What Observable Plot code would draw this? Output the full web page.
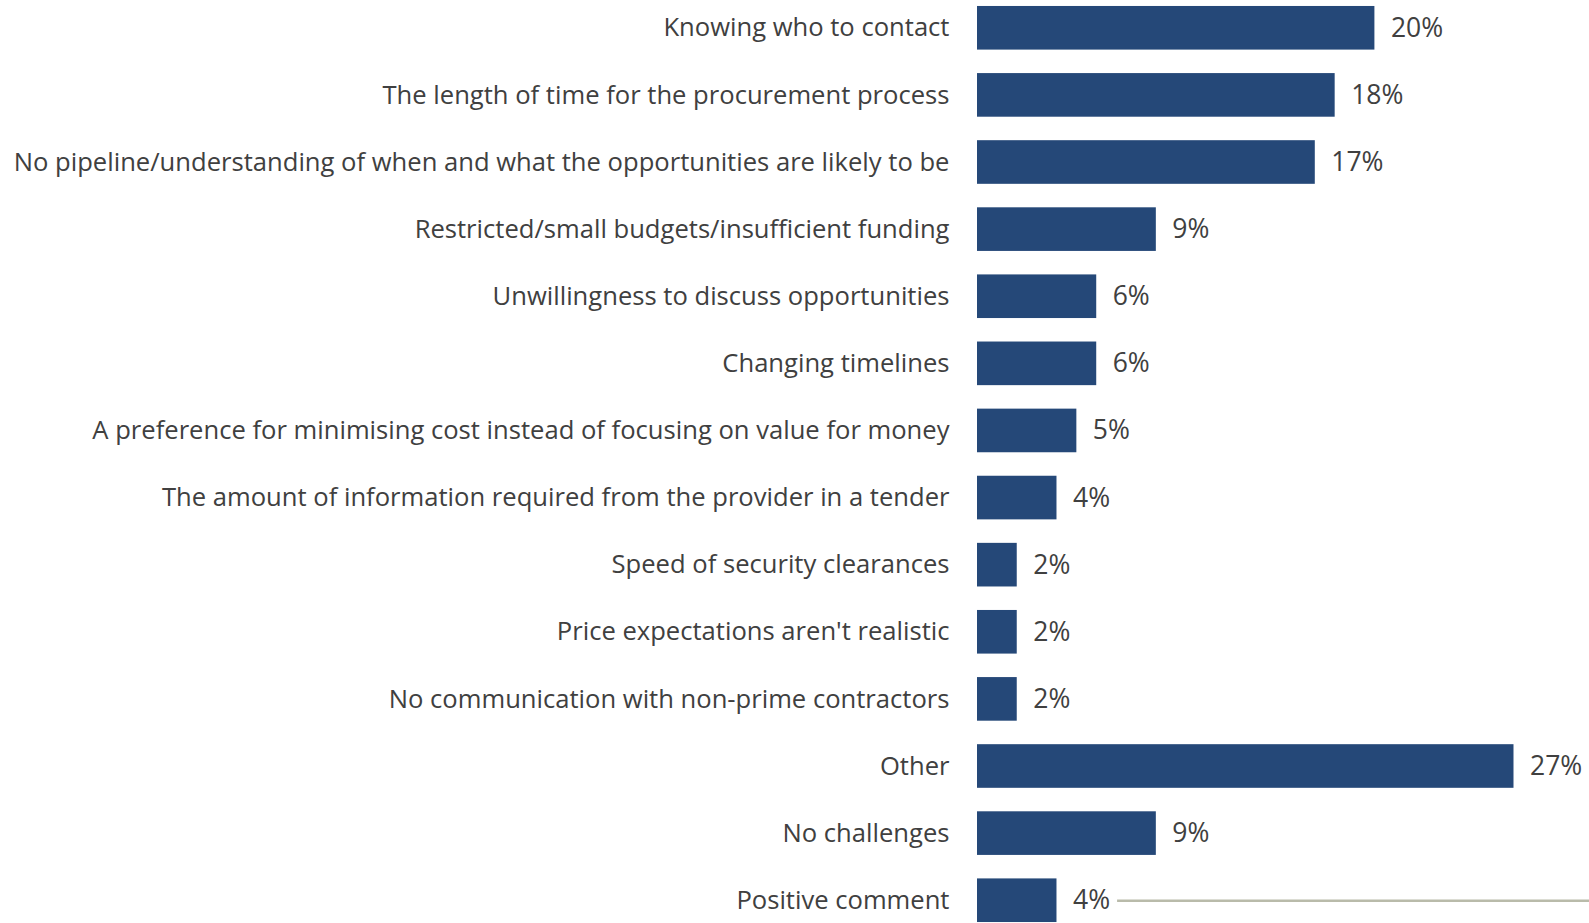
<!DOCTYPE html>
<html>
<head>
<meta charset="utf-8">
<script src="https://cdn.jsdelivr.net/npm/d3@7"></script>
<script src="https://cdn.jsdelivr.net/npm/@observablehq/plot@0.6"></script>
<style>
  html, body { margin: 0; padding: 0; background: #fff; overflow: hidden; }
  svg { display: block; }
</style>
</head>
<body>
<div id="chart"></div>
<script>
const categories = [
  "Knowing who to contact",
  "The length of time for the procurement process",
  "No pipeline/understanding of when and what the opportunities are likely to be",
  "Restricted/small budgets/insufficient funding",
  "Unwillingness to discuss opportunities",
  "Changing timelines",
  "A preference for minimising cost instead of focusing on value for money",
  "The amount of information required from the provider in a tender",
  "Speed of security clearances",
  "Price expectations aren't realistic",
  "No communication with non-prime contractors",
  "Other",
  "No challenges",
  "Positive comment"
];
const values = [20, 18, 17, 9, 6, 6, 5, 4, 2, 2, 2, 27, 9, 4];

// stray connector line seen at the bottom right of the reference
const connectorCategory = ["Positive comment"];
const connectorStart = [7.05];
const connectorEnd = [30.8];

const data = categories.map((c, i) => ({label: c, value: values[i]}));
const connector = connectorCategory.map((c, i) => ({label: c, x1: connectorStart[i], x2: connectorEnd[i]}));

const chart = Plot.plot({
  width: 1589,
  height: 923,
  marginLeft: 977,
  marginRight: 0,
  marginTop: 0,
  marginBottom: 0,
  style: {fontFamily: "'Open Sans', sans-serif", fontSize: "25.6px", color: "#404040", background: "#fff"},
  x: {domain: [0, 30.8], axis: null},
  y: {domain: categories, range: [0, 928], paddingInner: 0.35, paddingOuter: 0.089, round: false, label: null},
  marks: [
    Plot.axisY({tickSize: 0, tickPadding: 28, fontSize: 25.6, label: null}),
    Plot.ruleY(connector, {y: "label", x1: "x1", x2: "x2", stroke: "#b9bbaa", strokeWidth: 2.5}),
    Plot.barX(data, {y: "label", x: "value", fill: "#254878"}),
    Plot.ruleX([0], {y1: 0, y2: 923, stroke: "#d9d9d9", strokeWidth: 2, dx: -1}),
    Plot.text(data, {y: "label", x: "value", text: d => d.value + "%", textAnchor: "start", dx: 16, fontSize: 26.5, fill: "#404040"})
  ]
});
document.getElementById("chart").appendChild(chart);
</script>
</body>
</html>
